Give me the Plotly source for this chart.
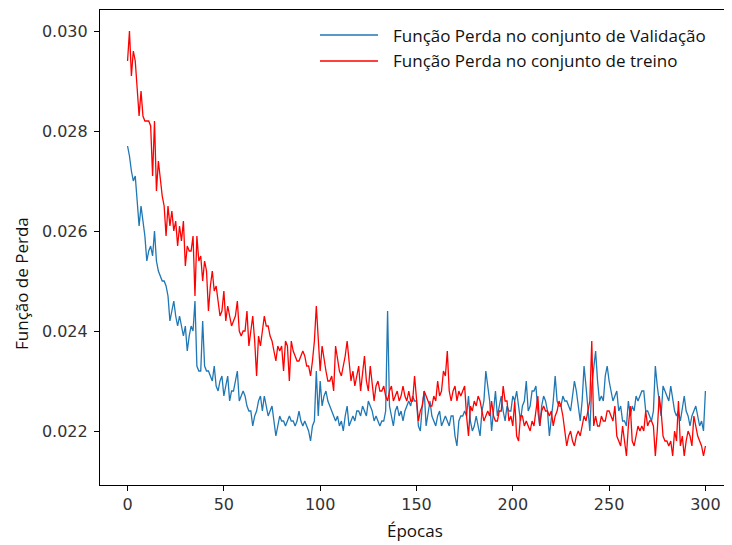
import plotly.graph_objects as go

# ---------------- data ----------------
epochs = list(range(301))

val_loss = [
    0.0277, 0.0275, 0.0272, 0.0270, 0.0271, 0.0266, 0.0261, 0.0265, 0.0262, 0.0259,
    0.0254, 0.0256, 0.0257, 0.0255, 0.0260, 0.0254, 0.0252, 0.0251, 0.0250, 0.0250,
    0.0249, 0.0247, 0.0242, 0.0244, 0.0246, 0.0243, 0.0241, 0.0243, 0.0241, 0.0239,
    0.0241, 0.0236, 0.0239, 0.0241, 0.0240, 0.0246, 0.0233, 0.0232, 0.0232, 0.0242,
    0.0233, 0.0232, 0.0232, 0.0231, 0.0230, 0.0233, 0.0229, 0.0228, 0.0230, 0.0231,
    0.0227, 0.0229, 0.0231, 0.0226, 0.0228, 0.0228, 0.0230, 0.0232, 0.0226, 0.0227,
    0.0228, 0.0227, 0.0225, 0.0224, 0.0224, 0.0221, 0.0223, 0.0224, 0.0226, 0.0227,
    0.0224, 0.0227, 0.0225, 0.0223, 0.0224, 0.0225, 0.0222, 0.0219, 0.0221, 0.0223,
    0.0222, 0.0222, 0.0221, 0.0222, 0.0223, 0.0222, 0.0222, 0.0221, 0.0222, 0.0224,
    0.0222, 0.0221, 0.0222, 0.0221, 0.0220, 0.0218, 0.0221, 0.0222, 0.0232, 0.0223,
    0.0230, 0.0225, 0.0227, 0.0228, 0.0226, 0.0225, 0.0224, 0.0223, 0.0222, 0.0223,
    0.0221, 0.0222, 0.0220, 0.0223, 0.0225, 0.0221, 0.0222, 0.0223, 0.0222, 0.0224,
    0.0224, 0.0223, 0.0225, 0.0224, 0.0223, 0.0226, 0.0225, 0.0224, 0.0222, 0.0223,
    0.0222, 0.0221, 0.0222, 0.0222, 0.0224, 0.0244, 0.0225, 0.0223, 0.0221, 0.0224,
    0.0225, 0.0223, 0.0224, 0.0222, 0.0224, 0.0225, 0.0226, 0.0225, 0.0227, 0.0226,
    0.0226, 0.0221, 0.0220, 0.0225, 0.0228, 0.0221, 0.0224, 0.0226, 0.0223, 0.0222,
    0.0221, 0.0223, 0.0224, 0.0221, 0.0222, 0.0223, 0.0222, 0.0221, 0.0223, 0.0223,
    0.0219, 0.0217, 0.0222, 0.0223, 0.0223, 0.0224, 0.0223, 0.0227, 0.0222, 0.0220,
    0.0221, 0.0223, 0.0221, 0.0219, 0.0224, 0.0226, 0.0232, 0.0229, 0.0226, 0.0220,
    0.0224, 0.0228, 0.0223, 0.0225, 0.0227, 0.0224, 0.0222, 0.0225, 0.0224, 0.0224,
    0.0227, 0.0226, 0.0228, 0.0225, 0.0222, 0.0225, 0.0226, 0.0230, 0.0224, 0.0225,
    0.0228, 0.0228, 0.0229, 0.0224, 0.0221, 0.0225, 0.0227, 0.0226, 0.0224, 0.0219,
    0.0222, 0.0226, 0.0231, 0.0226, 0.0225, 0.0225, 0.0227, 0.0226, 0.0226, 0.0225,
    0.0224, 0.0227, 0.0230, 0.0228, 0.0225, 0.0222, 0.0226, 0.0233, 0.0229, 0.0224,
    0.0220, 0.0229, 0.0232, 0.0236, 0.0230, 0.0226, 0.0227, 0.0226, 0.0231, 0.0233,
    0.0230, 0.0228, 0.0226, 0.0227, 0.0228, 0.0224, 0.0225, 0.0222, 0.0222, 0.0221,
    0.0226, 0.0223, 0.0225, 0.0224, 0.0227, 0.0226, 0.0227, 0.0228, 0.0228, 0.0224,
    0.0224, 0.0223, 0.0222, 0.0224, 0.0233, 0.0229, 0.0226, 0.0223, 0.0229, 0.0228,
    0.0227, 0.0226, 0.0229, 0.0226, 0.0224, 0.0223, 0.0224, 0.0222, 0.0225, 0.0227,
    0.0224, 0.0223, 0.0221, 0.0223, 0.0224, 0.0225, 0.0223, 0.0221, 0.0222, 0.0220,
    0.0228,
]

train_loss = [
    0.0294, 0.0300, 0.0291, 0.0296, 0.0294, 0.0289, 0.0283, 0.0288, 0.0283, 0.0282,
    0.0282, 0.0282, 0.0281, 0.0271, 0.0282, 0.0268, 0.0274, 0.0270, 0.0267, 0.0265,
    0.0259, 0.0265, 0.0261, 0.0264, 0.0260, 0.0262, 0.0257, 0.0261, 0.0258, 0.0262,
    0.0253, 0.0257, 0.0256, 0.0256, 0.0259, 0.0247, 0.0259, 0.0254, 0.0255, 0.0250,
    0.0254, 0.0252, 0.0244, 0.0249, 0.0252, 0.0248, 0.0249, 0.0246, 0.0243, 0.0244,
    0.0248, 0.0242, 0.0245, 0.0243, 0.0241, 0.0242, 0.0243, 0.0246, 0.0240, 0.0239,
    0.0240, 0.0240, 0.0244, 0.0237, 0.0240, 0.0243, 0.0238, 0.0231, 0.0239, 0.0237,
    0.0240, 0.0243, 0.0241, 0.0241, 0.0239, 0.0238, 0.0236, 0.0234, 0.0237, 0.0236,
    0.0237, 0.0232, 0.0238, 0.0237, 0.0230, 0.0238, 0.0236, 0.0235, 0.0234, 0.0234,
    0.0235, 0.0236, 0.0235, 0.0233, 0.0233, 0.0231, 0.0234, 0.0238, 0.0245, 0.0237,
    0.0232, 0.0237, 0.0234, 0.0232, 0.0230, 0.0230, 0.0231, 0.0228, 0.0237, 0.0234,
    0.0232, 0.0231, 0.0233, 0.0235, 0.0238, 0.0234, 0.0230, 0.0232, 0.0229, 0.0231,
    0.0233, 0.0228, 0.0232, 0.0235, 0.0230, 0.0228, 0.0233, 0.0230, 0.0226, 0.0229,
    0.0230, 0.0228, 0.0228, 0.0229, 0.0227, 0.0226, 0.0228, 0.0229, 0.0226, 0.0227,
    0.0228, 0.0226, 0.0227, 0.0229, 0.0227, 0.0226, 0.0228, 0.0226, 0.0226, 0.0231,
    0.0226, 0.0222, 0.0224, 0.0225, 0.0228, 0.0227, 0.0226, 0.0225, 0.0225, 0.0227,
    0.0226, 0.0230, 0.0227, 0.0228, 0.0232, 0.0231, 0.0236, 0.0228, 0.0226, 0.0228,
    0.0229, 0.0226, 0.0228, 0.0227, 0.0228, 0.0229, 0.0223, 0.0219, 0.0225, 0.0224,
    0.0226, 0.0225, 0.0227, 0.0226, 0.0224, 0.0222, 0.0223, 0.0224, 0.0223, 0.0226,
    0.0223, 0.0222, 0.0222, 0.0224, 0.0224, 0.0229, 0.0226, 0.0226, 0.0222, 0.0223,
    0.0221, 0.0226, 0.0219, 0.0218, 0.0223, 0.0223, 0.0221, 0.0222, 0.0221, 0.0220,
    0.0222, 0.0221, 0.0224, 0.0227, 0.0221, 0.0224, 0.0225, 0.0224, 0.0224, 0.0223,
    0.0224, 0.0221, 0.0223, 0.0224, 0.0226, 0.0225, 0.0223, 0.0220, 0.0217, 0.0219,
    0.0220, 0.0218, 0.0217, 0.0219, 0.0220, 0.0219, 0.0221, 0.0223, 0.0222, 0.0224,
    0.0226, 0.0238, 0.0221, 0.0223, 0.0221, 0.0221, 0.0223, 0.0222, 0.0222, 0.0224,
    0.0224, 0.0223, 0.0222, 0.0225, 0.0219, 0.0218, 0.0217, 0.0221, 0.0218, 0.0215,
    0.0221, 0.0225, 0.0218, 0.0217, 0.0219, 0.0221, 0.0220, 0.0221, 0.0220, 0.0224,
    0.0221, 0.0222, 0.0222, 0.0221, 0.0215, 0.0220, 0.0227, 0.0224, 0.0219, 0.0218,
    0.0218, 0.0217, 0.0218, 0.0215, 0.0220, 0.0218, 0.0226, 0.0217, 0.0219, 0.0215,
    0.0218, 0.0220, 0.0219, 0.0217, 0.0223, 0.0221, 0.0219, 0.0218, 0.0217, 0.0215,
    0.0217,
]

series_names = ["Função Perda no conjunto de Validação", "Função Perda no conjunto de treino"]
series_colors = ["#1f77b4", "#ff0000"]

x_tick_vals = [0, 50, 100, 150, 200, 250, 300]
y_tick_vals = [0.022, 0.024, 0.026, 0.028, 0.030]
y_tick_text = ["0.022", "0.024", "0.026", "0.028", "0.030"]

x_title = "Épocas"
y_title = "Função de Perda"

# ---------------- layout geometry ----------------
# The page body has an 8px default margin, so the figure starts at (8, 8)
# in the 732x545 window; geometry below is given in window pixels.
OFF = 8
W, H = 732 - OFF, 545 - OFF
PLOT_L, PLOT_R, PLOT_T, PLOT_B = 100, 732, 10, 485   # window pixels
L = PLOT_L - OFF
R = (OFF + W) - PLOT_R
T = PLOT_T - OFF
B = (OFF + H) - PLOT_B
PW, PH = PLOT_R - PLOT_L, PLOT_B - PLOT_T


def px(xw):
    return (xw - PLOT_L) / PW


def py(yw):
    return (PLOT_B - yw) / PH


fig = go.Figure()
for ys, name, color in zip([val_loss, train_loss], series_names, series_colors):
    fig.add_trace(go.Scatter(
        x=epochs, y=ys, mode="lines", name=name,
        line=dict(color=color, width=1.3), showlegend=False,
    ))

tick_font = dict(family="DejaVu Sans", size=16, color="#333333")
label_font = dict(family="Open Sans", size=17, color="#111111")

fig.update_layout(
    width=W, height=H,
    margin=dict(l=L, r=R, t=T, b=B),
    paper_bgcolor="white", plot_bgcolor="white",
    xaxis=dict(
        range=[-14.3, 313.8], tickvals=x_tick_vals,
        ticks="outside", ticklen=5, tickwidth=1, tickcolor="black",
        showline=True, linecolor="black", linewidth=1.2, mirror=True,
        showgrid=False, zeroline=False, tickfont=tick_font,
    ),
    yaxis=dict(
        range=[0.02092, 0.03042], tickvals=y_tick_vals, ticktext=y_tick_text,
        ticks="outside", ticklen=5, tickwidth=1, tickcolor="black",
        showline=True, linecolor="black", linewidth=1.2, mirror=False,
        showgrid=False, zeroline=False, tickfont=tick_font,
        ticklabelstandoff=3,
    ),
)

annotations = [
    dict(text=x_title, x=px(415), y=py(530), xref="paper", yref="paper",
         showarrow=False, xanchor="center", yanchor="middle", font=label_font),
    dict(text=y_title, x=px(22), y=py(284), xref="paper", yref="paper",
         showarrow=False, xanchor="center", yanchor="middle", textangle=-90,
         font=label_font),
]
shapes = []
legend_rows = [35, 61]
for name, color, yrow in zip(series_names, series_colors, legend_rows):
    shapes.append(dict(type="line", xref="paper", yref="paper",
                       x0=px(320), x1=px(378), y0=py(yrow), y1=py(yrow),
                       line=dict(color=color, width=1.5)))
    annotations.append(dict(text=name, x=px(391), y=py(yrow), xref="paper", yref="paper",
                            showarrow=False, xanchor="left", yanchor="middle",
                            font=label_font))

fig.update_layout(annotations=annotations, shapes=shapes)

fig.write_html("out.html")
